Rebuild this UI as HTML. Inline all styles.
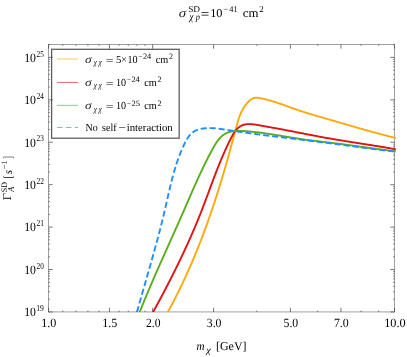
<!DOCTYPE html>
<html><head><meta charset="utf-8"><title>chart</title><style>
html,body{margin:0;padding:0;background:#fff;}
svg{display:block;font-family:"Liberation Serif",serif;fill:#000;will-change:transform;}
text{white-space:pre;text-rendering:geometricPrecision;}
</style></head><body>
<svg width="407" height="357" viewBox="0 0 407 357">
<defs><clipPath id="cp"><rect x="48.5" y="44.5" width="347.25" height="267.45"/></clipPath></defs>
<rect width="407" height="357" fill="#fff"/>
<rect x="48.5" y="44.5" width="346.05" height="267.45" fill="none" stroke="#5f5f5f" stroke-width="0.6"/>
<rect x="51.6" y="49.3" width="127.55000000000001" height="88.89999999999999" fill="#fff" stroke="#5a5a5a" stroke-width="1.25"/>
<path d="M48.50 311.95v-4.2 M48.50 44.5v4.2 M109.44 311.95v-4.2 M109.44 44.5v4.2 M152.67 311.95v-4.2 M152.67 44.5v4.2 M213.61 311.95v-4.2 M213.61 44.5v4.2 M290.38 311.95v-4.2 M290.38 44.5v4.2 M340.95 311.95v-4.2 M340.95 44.5v4.2 M394.55 311.95v-4.2 M394.55 44.5v4.2 M62.82 311.95v-1.35 M62.82 44.5v1.35 M75.90 311.95v-1.35 M75.90 44.5v1.35 M87.93 311.95v-1.35 M87.93 44.5v1.35 M99.07 311.95v-1.35 M99.07 44.5v1.35 M119.14 311.95v-1.35 M119.14 44.5v1.35 M128.25 311.95v-1.35 M128.25 44.5v1.35 M136.84 311.95v-1.35 M136.84 44.5v1.35 M144.96 311.95v-1.35 M144.96 44.5v1.35 M256.84 311.95v-1.35 M256.84 44.5v1.35 M317.78 311.95v-1.35 M317.78 44.5v1.35 M361.01 311.95v-1.35 M361.01 44.5v1.35 M378.72 311.95v-1.35 M378.72 44.5v1.35 M48.5 311.95h4.2 M394.55 311.95h-4.2 M48.5 299.18h1.35 M394.55 299.18h-1.35 M48.5 291.71h1.35 M394.55 291.71h-1.35 M48.5 286.40h1.35 M394.55 286.40h-1.35 M48.5 282.29h1.35 M394.55 282.29h-1.35 M48.5 278.93h1.35 M394.55 278.93h-1.35 M48.5 276.09h1.35 M394.55 276.09h-1.35 M48.5 273.63h1.35 M394.55 273.63h-1.35 M48.5 271.46h1.35 M394.55 271.46h-1.35 M48.5 269.52h4.2 M394.55 269.52h-4.2 M48.5 256.75h1.35 M394.55 256.75h-1.35 M48.5 249.28h1.35 M394.55 249.28h-1.35 M48.5 243.97h1.35 M394.55 243.97h-1.35 M48.5 239.86h1.35 M394.55 239.86h-1.35 M48.5 236.50h1.35 M394.55 236.50h-1.35 M48.5 233.66h1.35 M394.55 233.66h-1.35 M48.5 231.20h1.35 M394.55 231.20h-1.35 M48.5 229.03h1.35 M394.55 229.03h-1.35 M48.5 227.09h4.2 M394.55 227.09h-4.2 M48.5 214.32h1.35 M394.55 214.32h-1.35 M48.5 206.85h1.35 M394.55 206.85h-1.35 M48.5 201.54h1.35 M394.55 201.54h-1.35 M48.5 197.43h1.35 M394.55 197.43h-1.35 M48.5 194.07h1.35 M394.55 194.07h-1.35 M48.5 191.23h1.35 M394.55 191.23h-1.35 M48.5 188.77h1.35 M394.55 188.77h-1.35 M48.5 186.60h1.35 M394.55 186.60h-1.35 M48.5 184.66h4.2 M394.55 184.66h-4.2 M48.5 171.89h1.35 M394.55 171.89h-1.35 M48.5 164.42h1.35 M394.55 164.42h-1.35 M48.5 159.11h1.35 M394.55 159.11h-1.35 M48.5 155.00h1.35 M394.55 155.00h-1.35 M48.5 151.64h1.35 M394.55 151.64h-1.35 M48.5 148.80h1.35 M394.55 148.80h-1.35 M48.5 146.34h1.35 M394.55 146.34h-1.35 M48.5 144.17h1.35 M394.55 144.17h-1.35 M48.5 142.23h4.2 M394.55 142.23h-4.2 M48.5 129.46h1.35 M394.55 129.46h-1.35 M48.5 121.99h1.35 M394.55 121.99h-1.35 M48.5 116.68h1.35 M394.55 116.68h-1.35 M48.5 112.57h1.35 M394.55 112.57h-1.35 M48.5 109.21h1.35 M394.55 109.21h-1.35 M48.5 106.37h1.35 M394.55 106.37h-1.35 M48.5 103.91h1.35 M394.55 103.91h-1.35 M48.5 101.74h1.35 M394.55 101.74h-1.35 M48.5 99.80h4.2 M394.55 99.80h-4.2 M48.5 87.03h1.35 M394.55 87.03h-1.35 M48.5 79.56h1.35 M394.55 79.56h-1.35 M48.5 74.25h1.35 M394.55 74.25h-1.35 M48.5 70.14h1.35 M394.55 70.14h-1.35 M48.5 66.78h1.35 M394.55 66.78h-1.35 M48.5 63.94h1.35 M394.55 63.94h-1.35 M48.5 61.48h1.35 M394.55 61.48h-1.35 M48.5 59.31h1.35 M394.55 59.31h-1.35 M48.5 57.37h4.2 M394.55 57.37h-4.2 M48.5 44.60h1.35 M394.55 44.60h-1.35" stroke="#4a4a4a" stroke-width="0.75" fill="none"/>
<g clip-path="url(#cp)" fill="none" stroke-linejoin="round">
<path d="M165.00 317.06 L165.35 316.44 L165.70 315.82 L166.05 315.20 L166.39 314.58 L166.74 313.96 L167.08 313.33 L167.43 312.71 L167.77 312.09 L168.11 311.47 L168.45 310.84 L168.79 310.22 L169.13 309.60 L169.47 308.97 L169.80 308.35 L170.14 307.72 L170.47 307.10 L170.81 306.47 L171.14 305.85 L171.47 305.22 L171.80 304.60 L172.13 303.97 L172.46 303.34 L172.79 302.72 L173.12 302.09 L173.45 301.46 L173.77 300.84 L174.10 300.21 L174.42 299.58 L174.74 298.95 L175.07 298.33 L175.39 297.70 L175.71 297.07 L176.03 296.44 L176.35 295.81 L176.66 295.18 L176.98 294.55 L177.30 293.92 L177.61 293.29 L177.93 292.66 L178.24 292.03 L178.55 291.40 L178.86 290.77 L179.17 290.14 L179.48 289.50 L179.79 288.87 L180.10 288.24 L180.41 287.61 L180.72 286.98 L181.02 286.34 L181.33 285.71 L181.63 285.08 L181.93 284.44 L182.24 283.81 L182.54 283.17 L182.84 282.54 L183.14 281.91 L183.44 281.27 L183.74 280.64 L184.03 280.00 L184.33 279.37 L184.62 278.73 L184.92 278.09 L185.21 277.46 L185.51 276.82 L185.80 276.18 L186.09 275.55 L186.38 274.91 L186.67 274.27 L186.96 273.63 L187.25 273.00 L187.54 272.36 L187.83 271.72 L188.11 271.08 L188.40 270.44 L188.68 269.80 L188.97 269.16 L189.25 268.52 L189.53 267.88 L189.81 267.24 L190.09 266.60 L190.37 265.96 L190.65 265.32 L190.93 264.68 L191.21 264.04 L191.49 263.40 L191.76 262.75 L192.04 262.11 L192.31 261.47 L192.59 260.83 L192.86 260.18 L193.13 259.54 L193.40 258.90 L193.68 258.25 L193.95 257.61 L194.22 256.97 L194.48 256.32 L194.75 255.68 L195.02 255.03 L195.29 254.39 L195.55 253.74 L195.82 253.10 L196.08 252.45 L196.35 251.80 L196.61 251.16 L196.87 250.51 L197.14 249.87 L197.40 249.22 L197.66 248.57 L197.92 247.92 L198.18 247.28 L198.43 246.63 L198.69 245.98 L198.95 245.33 L199.21 244.68 L199.46 244.03 L199.72 243.38 L199.97 242.73 L200.23 242.08 L200.48 241.43 L200.73 240.78 L200.98 240.13 L201.23 239.48 L201.48 238.83 L201.73 238.18 L201.98 237.53 L202.23 236.88 L202.48 236.23 L202.73 235.57 L202.97 234.92 L203.22 234.27 L203.47 233.62 L203.71 232.96 L203.96 232.31 L204.20 231.66 L204.44 231.00 L204.68 230.35 L204.93 229.69 L205.17 229.04 L205.41 228.39 L205.65 227.73 L205.89 227.07 L206.13 226.42 L206.36 225.76 L206.60 225.11 L206.84 224.45 L207.08 223.79 L207.31 223.14 L207.55 222.48 L207.78 221.82 L208.01 221.17 L208.25 220.51 L208.48 219.85 L208.71 219.19 L208.95 218.53 L209.18 217.88 L209.41 217.22 L209.64 216.56 L209.87 215.90 L210.10 215.24 L210.32 214.58 L210.55 213.92 L210.78 213.26 L211.01 212.60 L211.23 211.94 L211.46 211.28 L211.68 210.62 L211.91 209.95 L212.13 209.29 L212.36 208.63 L212.58 207.97 L212.80 207.31 L213.02 206.64 L213.25 205.98 L213.47 205.32 L213.69 204.65 L213.91 203.99 L214.13 203.33 L214.35 202.66 L214.56 202.00 L214.78 201.33 L215.00 200.67 L215.22 200.00 L215.43 199.34 L215.65 198.67 L215.87 198.01 L216.08 197.34 L216.30 196.67 L216.51 196.01 L216.72 195.34 L216.94 194.67 L217.15 194.00 L217.36 193.34 L217.57 192.67 L217.78 192.00 L218.00 191.33 L218.21 190.67 L218.42 190.00 L218.63 189.33 L218.83 188.66 L219.04 187.99 L219.25 187.32 L219.46 186.65 L219.67 185.98 L219.87 185.31 L220.08 184.64 L220.29 183.97 L220.49 183.30 L220.70 182.62 L220.90 181.95 L221.11 181.28 L221.31 180.61 L221.51 179.94 L221.72 179.26 L221.92 178.59 L222.12 177.92 L222.32 177.25 L222.53 176.57 L222.73 175.90 L222.93 175.22 L223.13 174.55 L223.33 173.88 L223.53 173.20 L223.73 172.53 L223.93 171.85 L224.12 171.18 L224.32 170.50 L224.52 169.82 L224.72 169.15 L224.91 168.47 L225.11 167.80 L225.31 167.12 L225.50 166.44 L225.70 165.76 L225.89 165.09 L226.09 164.41 L226.28 163.73 L226.48 163.05 L226.67 162.37 L226.86 161.70 L227.06 161.02 L227.25 160.34 L227.44 159.66 L227.63 158.98 L227.83 158.30 L228.02 157.62 L228.21 156.94 L228.40 156.26 L228.59 155.58 L228.78 154.90 L228.97 154.21 L229.16 153.53 L229.35 152.85 L229.54 152.17 L229.73 151.49 L229.92 150.80 L230.10 150.12 L230.29 149.44 L230.48 148.75 L230.67 148.07 L230.85 147.39 L231.04 146.70 L231.23 146.02 L231.41 145.34 L231.60 144.65 L231.78 143.97 L231.97 143.28 L232.15 142.60 L232.34 141.91 L232.52 141.22 L232.71 140.54 L232.89 139.85 L233.08 139.17 L233.26 138.48 L233.44 137.79 L233.63 137.10 L233.81 136.42 L233.99 135.73 L234.17 135.04 L234.36 134.35 L234.54 133.66 L234.72 132.98 L234.90 132.29 L235.08 131.60 L235.26 130.91 L235.44 130.22 L235.62 129.53 L235.80 128.84 L235.99 128.15 L236.17 127.46 L236.35 126.77 L236.54 126.09 L236.73 125.40 L236.91 124.72 L237.11 124.03 L237.30 123.35 L237.50 122.67 L237.70 121.99 L237.90 121.32 L238.11 120.64 L238.32 119.97 L238.54 119.30 L238.76 118.64 L238.99 117.98 L239.22 117.32 L239.45 116.66 L239.70 116.01 L239.95 115.37 L240.20 114.72 L240.47 114.09 L240.74 113.45 L241.01 112.82 L241.30 112.20 L241.59 111.58 L241.89 110.96 L242.20 110.36 L242.52 109.75 L242.85 109.16 L243.19 108.57 L243.54 107.98 L243.90 107.40 L244.26 106.83 L244.64 106.27 L245.03 105.71 L245.44 105.16 L245.85 104.62 L246.27 104.08 L246.71 103.55 L247.16 103.04 L247.62 102.52 L248.10 102.02 L248.59 101.53 L249.09 101.04 L249.61 100.57 L250.14 100.12 L250.68 99.70 L251.24 99.30 L251.82 98.94 L252.41 98.62 L253.01 98.34 L253.63 98.12 L254.27 97.95 L254.92 97.83 L255.58 97.77 L256.25 97.74 L256.94 97.76 L257.63 97.81 L258.32 97.88 L259.02 97.98 L259.72 98.09 L260.42 98.22 L261.12 98.35 L261.82 98.49 L262.52 98.64 L263.21 98.79 L263.91 98.94 L264.60 99.10 L265.29 99.26 L265.98 99.43 L266.67 99.61 L267.35 99.78 L268.04 99.96 L268.72 100.15 L269.40 100.34 L270.08 100.53 L270.76 100.72 L271.44 100.92 L272.11 101.12 L272.79 101.33 L273.46 101.54 L274.14 101.75 L274.81 101.96 L275.48 102.18 L276.15 102.40 L276.82 102.62 L277.49 102.84 L278.16 103.07 L278.83 103.30 L279.49 103.53 L280.16 103.76 L280.82 103.99 L281.49 104.22 L282.15 104.46 L282.82 104.69 L283.48 104.93 L284.14 105.17 L284.81 105.41 L285.47 105.65 L286.13 105.89 L286.79 106.13 L287.45 106.37 L288.12 106.61 L288.78 106.85 L289.44 107.09 L290.10 107.33 L290.76 107.56 L291.42 107.80 L292.08 108.04 L292.75 108.28 L293.41 108.51 L294.07 108.75 L294.73 108.98 L295.40 109.21 L296.06 109.44 L296.73 109.67 L297.39 109.90 L298.05 110.12 L298.72 110.34 L299.38 110.57 L300.05 110.79 L300.72 111.01 L301.38 111.22 L302.05 111.44 L302.72 111.66 L303.39 111.87 L304.05 112.08 L304.72 112.30 L305.39 112.51 L306.06 112.72 L306.73 112.92 L307.40 113.13 L308.07 113.34 L308.74 113.54 L309.41 113.75 L310.08 113.95 L310.75 114.15 L311.42 114.36 L312.09 114.56 L312.76 114.76 L313.43 114.96 L314.10 115.16 L314.78 115.36 L315.45 115.56 L316.12 115.75 L316.79 115.95 L317.46 116.15 L318.14 116.34 L318.81 116.54 L319.48 116.74 L320.16 116.93 L320.83 117.13 L321.50 117.32 L322.17 117.52 L322.85 117.71 L323.52 117.91 L324.19 118.10 L324.87 118.29 L325.54 118.49 L326.21 118.68 L326.89 118.88 L327.56 119.07 L328.23 119.27 L328.91 119.46 L329.58 119.66 L330.25 119.85 L330.93 120.05 L331.60 120.25 L332.27 120.44 L332.95 120.64 L333.62 120.83 L334.29 121.03 L334.97 121.23 L335.64 121.42 L336.31 121.62 L336.99 121.81 L337.66 122.01 L338.33 122.21 L339.01 122.40 L339.68 122.60 L340.35 122.80 L341.03 122.99 L341.70 123.19 L342.38 123.39 L343.05 123.58 L343.72 123.78 L344.40 123.98 L345.07 124.17 L345.74 124.37 L346.42 124.56 L347.09 124.76 L347.77 124.96 L348.44 125.15 L349.11 125.35 L349.79 125.54 L350.46 125.74 L351.14 125.93 L351.81 126.13 L352.49 126.32 L353.16 126.52 L353.83 126.71 L354.51 126.91 L355.18 127.10 L355.86 127.29 L356.53 127.49 L357.21 127.68 L357.88 127.87 L358.56 128.07 L359.23 128.26 L359.91 128.45 L360.58 128.64 L361.26 128.84 L361.93 129.03 L362.61 129.22 L363.28 129.41 L363.96 129.60 L364.63 129.79 L365.31 129.98 L365.99 130.17 L366.66 130.36 L367.34 130.54 L368.01 130.73 L368.69 130.92 L369.37 131.11 L370.04 131.29 L370.72 131.48 L371.40 131.67 L372.07 131.85 L372.75 132.04 L373.43 132.22 L374.11 132.40 L374.78 132.59 L375.46 132.77 L376.14 132.95 L376.82 133.13 L377.49 133.32 L378.17 133.50 L378.85 133.68 L379.53 133.86 L380.21 134.03 L380.88 134.21 L381.56 134.39 L382.24 134.57 L382.92 134.74 L383.60 134.92 L384.28 135.10 L384.96 135.27 L385.64 135.44 L386.32 135.62 L387.00 135.79 L387.68 135.96 L388.36 136.13 L389.04 136.30 L389.72 136.47 L390.40 136.64 L391.08 136.81 L391.76 136.98 L392.44 137.14 L393.12 137.31 L393.80 137.47 L394.48 137.64 L395.17 137.80 L395.85 137.96 L396.53 138.13 L397.21 138.29" stroke="#FFA90F" stroke-width="1.9"/>
<path d="M150.41 316.95 L150.75 316.35 L151.08 315.74 L151.42 315.13 L151.75 314.52 L152.09 313.91 L152.43 313.30 L152.76 312.69 L153.09 312.08 L153.43 311.47 L153.76 310.86 L154.10 310.25 L154.43 309.64 L154.77 309.03 L155.10 308.42 L155.43 307.80 L155.77 307.19 L156.10 306.58 L156.43 305.96 L156.76 305.35 L157.10 304.74 L157.43 304.12 L157.76 303.51 L158.09 302.89 L158.42 302.28 L158.75 301.66 L159.09 301.04 L159.42 300.43 L159.75 299.81 L160.08 299.19 L160.41 298.57 L160.74 297.96 L161.07 297.34 L161.39 296.72 L161.72 296.10 L162.05 295.48 L162.38 294.86 L162.71 294.24 L163.04 293.62 L163.36 293.00 L163.69 292.38 L164.02 291.76 L164.34 291.14 L164.67 290.51 L165.00 289.89 L165.32 289.27 L165.65 288.65 L165.97 288.02 L166.30 287.40 L166.62 286.78 L166.94 286.15 L167.27 285.53 L167.59 284.90 L167.91 284.28 L168.24 283.65 L168.56 283.03 L168.88 282.40 L169.20 281.77 L169.52 281.15 L169.84 280.52 L170.16 279.89 L170.48 279.26 L170.80 278.64 L171.12 278.01 L171.44 277.38 L171.76 276.75 L172.08 276.12 L172.39 275.49 L172.71 274.86 L173.03 274.23 L173.34 273.60 L173.66 272.97 L173.98 272.34 L174.29 271.71 L174.60 271.08 L174.92 270.45 L175.23 269.82 L175.55 269.19 L175.86 268.55 L176.17 267.92 L176.48 267.29 L176.79 266.66 L177.10 266.02 L177.41 265.39 L177.72 264.75 L178.03 264.12 L178.34 263.49 L178.65 262.85 L178.96 262.22 L179.26 261.58 L179.57 260.95 L179.88 260.31 L180.18 259.67 L180.49 259.04 L180.79 258.40 L181.10 257.77 L181.40 257.13 L181.70 256.49 L182.01 255.85 L182.31 255.22 L182.61 254.58 L182.91 253.94 L183.21 253.30 L183.51 252.66 L183.81 252.03 L184.11 251.39 L184.41 250.75 L184.70 250.11 L185.00 249.47 L185.30 248.83 L185.59 248.19 L185.89 247.55 L186.18 246.91 L186.48 246.27 L186.77 245.63 L187.06 244.98 L187.36 244.34 L187.65 243.70 L187.94 243.06 L188.23 242.42 L188.52 241.78 L188.81 241.13 L189.09 240.49 L189.38 239.85 L189.67 239.20 L189.95 238.56 L190.24 237.92 L190.53 237.27 L190.81 236.63 L191.09 235.99 L191.38 235.34 L191.66 234.70 L191.94 234.05 L192.22 233.41 L192.50 232.76 L192.78 232.12 L193.06 231.47 L193.34 230.83 L193.62 230.18 L193.89 229.54 L194.17 228.89 L194.44 228.24 L194.72 227.60 L194.99 226.95 L195.26 226.30 L195.54 225.66 L195.81 225.01 L196.08 224.36 L196.35 223.72 L196.62 223.07 L196.89 222.42 L197.15 221.77 L197.42 221.12 L197.69 220.48 L197.95 219.83 L198.22 219.18 L198.48 218.53 L198.74 217.88 L199.01 217.23 L199.27 216.58 L199.53 215.93 L199.79 215.28 L200.05 214.63 L200.31 213.98 L200.56 213.33 L200.82 212.68 L201.08 212.03 L201.33 211.38 L201.59 210.73 L201.84 210.08 L202.09 209.43 L202.34 208.78 L202.59 208.13 L202.84 207.48 L203.09 206.83 L203.34 206.18 L203.59 205.52 L203.84 204.87 L204.09 204.22 L204.34 203.57 L204.58 202.92 L204.83 202.27 L205.07 201.61 L205.32 200.96 L205.56 200.31 L205.81 199.66 L206.05 199.00 L206.30 198.35 L206.54 197.70 L206.78 197.05 L207.02 196.39 L207.27 195.74 L207.51 195.09 L207.75 194.43 L207.99 193.78 L208.24 193.13 L208.48 192.48 L208.72 191.82 L208.96 191.17 L209.20 190.52 L209.45 189.86 L209.69 189.21 L209.93 188.56 L210.17 187.90 L210.42 187.25 L210.66 186.60 L210.90 185.94 L211.14 185.29 L211.39 184.64 L211.63 183.98 L211.87 183.33 L212.12 182.68 L212.36 182.02 L212.61 181.37 L212.85 180.72 L213.10 180.06 L213.34 179.41 L213.59 178.75 L213.84 178.10 L214.09 177.45 L214.33 176.79 L214.58 176.14 L214.83 175.49 L215.08 174.83 L215.33 174.18 L215.58 173.53 L215.83 172.88 L216.09 172.22 L216.34 171.57 L216.60 170.92 L216.85 170.26 L217.11 169.61 L217.36 168.96 L217.62 168.30 L217.88 167.65 L218.14 167.00 L218.40 166.35 L218.66 165.69 L218.92 165.04 L219.19 164.39 L219.45 163.74 L219.72 163.08 L219.98 162.43 L220.25 161.78 L220.52 161.13 L220.79 160.48 L221.06 159.83 L221.34 159.17 L221.61 158.52 L221.88 157.87 L222.16 157.22 L222.44 156.57 L222.72 155.92 L223.00 155.27 L223.28 154.62 L223.57 153.97 L223.85 153.32 L224.14 152.67 L224.43 152.01 L224.72 151.36 L225.01 150.71 L225.30 150.07 L225.60 149.42 L225.89 148.77 L226.19 148.12 L226.49 147.47 L226.79 146.82 L227.10 146.17 L227.40 145.52 L227.71 144.87 L228.02 144.22 L228.33 143.58 L228.64 142.93 L228.96 142.28 L229.27 141.63 L229.59 140.99 L229.91 140.34 L230.23 139.69 L230.56 139.05 L230.89 138.40 L231.22 137.75 L231.55 137.11 L231.89 136.47 L232.23 135.84 L232.58 135.21 L232.94 134.58 L233.30 133.97 L233.67 133.36 L234.05 132.77 L234.45 132.18 L234.85 131.61 L235.26 131.05 L235.69 130.50 L236.13 129.97 L236.58 129.46 L237.05 128.96 L237.54 128.49 L238.04 128.03 L238.56 127.59 L239.09 127.18 L239.64 126.78 L240.21 126.42 L240.78 126.07 L241.37 125.76 L241.97 125.47 L242.58 125.21 L243.20 124.98 L243.83 124.77 L244.47 124.60 L245.11 124.46 L245.77 124.34 L246.42 124.24 L247.09 124.17 L247.76 124.12 L248.44 124.09 L249.12 124.09 L249.80 124.09 L250.49 124.12 L251.19 124.16 L251.88 124.22 L252.59 124.28 L253.29 124.36 L253.99 124.45 L254.70 124.55 L255.41 124.65 L256.12 124.76 L256.83 124.87 L257.54 124.99 L258.24 125.11 L258.95 125.23 L259.66 125.35 L260.37 125.47 L261.07 125.59 L261.78 125.71 L262.48 125.83 L263.19 125.95 L263.89 126.07 L264.60 126.20 L265.30 126.32 L266.00 126.44 L266.70 126.57 L267.40 126.69 L268.10 126.82 L268.80 126.94 L269.50 127.07 L270.20 127.20 L270.90 127.32 L271.59 127.45 L272.29 127.58 L272.99 127.71 L273.68 127.84 L274.38 127.97 L275.08 128.10 L275.77 128.22 L276.46 128.35 L277.16 128.48 L277.85 128.62 L278.54 128.75 L279.24 128.88 L279.93 129.01 L280.62 129.14 L281.31 129.27 L282.00 129.40 L282.69 129.54 L283.38 129.67 L284.07 129.80 L284.76 129.93 L285.45 130.07 L286.14 130.20 L286.83 130.33 L287.52 130.47 L288.21 130.60 L288.90 130.74 L289.58 130.87 L290.27 131.00 L290.96 131.14 L291.65 131.27 L292.33 131.41 L293.02 131.54 L293.71 131.67 L294.39 131.81 L295.08 131.94 L295.76 132.08 L296.45 132.21 L297.14 132.35 L297.82 132.48 L298.51 132.61 L299.19 132.75 L299.88 132.88 L300.56 133.02 L301.25 133.15 L301.93 133.28 L302.62 133.42 L303.30 133.55 L303.99 133.69 L304.67 133.82 L305.36 133.95 L306.04 134.09 L306.73 134.22 L307.41 134.35 L308.10 134.48 L308.78 134.62 L309.47 134.75 L310.15 134.88 L310.84 135.01 L311.52 135.14 L312.21 135.27 L312.89 135.40 L313.58 135.54 L314.26 135.67 L314.95 135.80 L315.64 135.93 L316.32 136.05 L317.01 136.18 L317.69 136.31 L318.38 136.44 L319.07 136.57 L319.75 136.70 L320.44 136.82 L321.13 136.95 L321.82 137.08 L322.50 137.20 L323.19 137.33 L323.88 137.45 L324.57 137.58 L325.26 137.70 L325.95 137.82 L326.64 137.95 L327.33 138.07 L328.02 138.19 L328.71 138.31 L329.40 138.44 L330.09 138.56 L330.78 138.68 L331.47 138.80 L332.16 138.91 L332.85 139.03 L333.55 139.15 L334.24 139.27 L334.93 139.39 L335.62 139.50 L336.32 139.62 L337.01 139.74 L337.71 139.85 L338.40 139.97 L339.09 140.08 L339.79 140.20 L340.48 140.31 L341.18 140.43 L341.87 140.54 L342.57 140.65 L343.26 140.77 L343.96 140.88 L344.65 140.99 L345.35 141.10 L346.05 141.21 L346.74 141.33 L347.44 141.44 L348.13 141.55 L348.83 141.66 L349.53 141.77 L350.22 141.88 L350.92 141.99 L351.62 142.10 L352.31 142.21 L353.01 142.32 L353.71 142.43 L354.40 142.54 L355.10 142.65 L355.80 142.76 L356.49 142.87 L357.19 142.98 L357.89 143.09 L358.58 143.20 L359.28 143.31 L359.98 143.42 L360.67 143.53 L361.37 143.64 L362.07 143.74 L362.76 143.85 L363.46 143.96 L364.16 144.07 L364.85 144.18 L365.55 144.29 L366.24 144.40 L366.94 144.51 L367.64 144.62 L368.33 144.73 L369.03 144.84 L369.72 144.95 L370.42 145.06 L371.11 145.17 L371.81 145.28 L372.50 145.39 L373.20 145.50 L373.89 145.61 L374.59 145.72 L375.28 145.83 L375.97 145.94 L376.67 146.05 L377.36 146.16 L378.05 146.27 L378.75 146.39 L379.44 146.50 L380.13 146.61 L380.82 146.72 L381.51 146.84 L382.21 146.95 L382.90 147.06 L383.59 147.18 L384.28 147.29 L384.97 147.41 L385.66 147.52 L386.35 147.64 L387.04 147.75 L387.73 147.87 L388.42 147.98 L389.10 148.10 L389.79 148.22 L390.48 148.34 L391.17 148.45 L391.85 148.57 L392.54 148.69 L393.23 148.81 L393.91 148.93 L394.60 149.05 L395.28 149.17 L395.97 149.29 L396.65 149.42 L397.33 149.54" stroke="#E01212" stroke-width="1.9"/>
<path d="M137.76 317.03 L138.02 316.39 L138.27 315.74 L138.52 315.09 L138.77 314.44 L139.03 313.79 L139.28 313.14 L139.53 312.49 L139.79 311.84 L140.05 311.19 L140.30 310.54 L140.56 309.89 L140.82 309.25 L141.08 308.60 L141.34 307.95 L141.60 307.30 L141.86 306.65 L142.12 306.00 L142.38 305.36 L142.64 304.71 L142.90 304.06 L143.17 303.41 L143.43 302.76 L143.70 302.12 L143.96 301.47 L144.23 300.82 L144.49 300.17 L144.76 299.53 L145.03 298.88 L145.29 298.23 L145.56 297.58 L145.83 296.94 L146.10 296.29 L146.37 295.64 L146.64 295.00 L146.91 294.35 L147.18 293.70 L147.45 293.06 L147.72 292.41 L148.00 291.76 L148.27 291.12 L148.54 290.47 L148.82 289.82 L149.09 289.18 L149.36 288.53 L149.64 287.88 L149.91 287.24 L150.19 286.59 L150.47 285.95 L150.74 285.30 L151.02 284.65 L151.30 284.01 L151.57 283.36 L151.85 282.72 L152.13 282.07 L152.41 281.43 L152.69 280.78 L152.97 280.14 L153.25 279.49 L153.53 278.85 L153.81 278.20 L154.09 277.56 L154.37 276.91 L154.65 276.27 L154.93 275.62 L155.21 274.98 L155.49 274.33 L155.78 273.69 L156.06 273.04 L156.34 272.40 L156.63 271.75 L156.91 271.11 L157.19 270.47 L157.48 269.82 L157.76 269.18 L158.04 268.53 L158.33 267.89 L158.61 267.25 L158.90 266.60 L159.18 265.96 L159.47 265.31 L159.75 264.67 L160.04 264.03 L160.33 263.38 L160.61 262.74 L160.90 262.10 L161.18 261.45 L161.47 260.81 L161.76 260.17 L162.04 259.52 L162.33 258.88 L162.62 258.24 L162.91 257.60 L163.19 256.95 L163.48 256.31 L163.77 255.67 L164.06 255.02 L164.34 254.38 L164.63 253.74 L164.92 253.10 L165.21 252.45 L165.49 251.81 L165.78 251.17 L166.07 250.53 L166.36 249.89 L166.65 249.24 L166.94 248.60 L167.22 247.96 L167.51 247.32 L167.80 246.68 L168.09 246.03 L168.38 245.39 L168.66 244.75 L168.95 244.11 L169.24 243.47 L169.53 242.83 L169.82 242.19 L170.11 241.54 L170.39 240.90 L170.68 240.26 L170.97 239.62 L171.26 238.98 L171.55 238.34 L171.83 237.70 L172.12 237.06 L172.41 236.42 L172.70 235.77 L172.98 235.13 L173.27 234.49 L173.56 233.85 L173.84 233.21 L174.13 232.57 L174.42 231.93 L174.71 231.29 L174.99 230.65 L175.28 230.01 L175.56 229.37 L175.85 228.73 L176.14 228.09 L176.42 227.45 L176.71 226.81 L176.99 226.17 L177.28 225.53 L177.56 224.89 L177.85 224.25 L178.13 223.61 L178.42 222.97 L178.70 222.33 L178.99 221.69 L179.27 221.05 L179.55 220.41 L179.84 219.77 L180.12 219.13 L180.40 218.50 L180.68 217.86 L180.97 217.22 L181.25 216.58 L181.53 215.94 L181.81 215.30 L182.09 214.66 L182.37 214.02 L182.65 213.38 L182.93 212.74 L183.21 212.11 L183.49 211.47 L183.77 210.83 L184.05 210.19 L184.33 209.55 L184.61 208.91 L184.89 208.27 L185.16 207.64 L185.44 207.00 L185.72 206.36 L186.00 205.72 L186.27 205.08 L186.55 204.45 L186.83 203.81 L187.10 203.17 L187.38 202.53 L187.66 201.89 L187.94 201.26 L188.21 200.62 L188.49 199.98 L188.77 199.34 L189.04 198.70 L189.32 198.07 L189.60 197.43 L189.88 196.79 L190.15 196.15 L190.43 195.52 L190.71 194.88 L190.99 194.24 L191.27 193.60 L191.55 192.97 L191.82 192.33 L192.10 191.69 L192.38 191.05 L192.66 190.42 L192.94 189.78 L193.22 189.14 L193.51 188.50 L193.79 187.87 L194.07 187.23 L194.35 186.59 L194.64 185.96 L194.92 185.32 L195.20 184.68 L195.49 184.05 L195.77 183.41 L196.06 182.77 L196.35 182.13 L196.63 181.50 L196.92 180.86 L197.21 180.22 L197.50 179.59 L197.79 178.95 L198.08 178.31 L198.37 177.68 L198.66 177.04 L198.96 176.40 L199.25 175.77 L199.54 175.13 L199.84 174.49 L200.14 173.85 L200.43 173.22 L200.73 172.58 L201.03 171.94 L201.33 171.31 L201.63 170.67 L201.93 170.03 L202.24 169.40 L202.54 168.76 L202.85 168.12 L203.15 167.49 L203.46 166.85 L203.77 166.21 L204.08 165.58 L204.39 164.94 L204.70 164.30 L205.02 163.67 L205.33 163.03 L205.65 162.39 L205.96 161.76 L206.28 161.12 L206.60 160.48 L206.92 159.85 L207.25 159.21 L207.57 158.57 L207.89 157.94 L208.22 157.30 L208.55 156.66 L208.88 156.03 L209.21 155.39 L209.54 154.75 L209.88 154.12 L210.21 153.48 L210.55 152.84 L210.89 152.21 L211.23 151.57 L211.57 150.93 L211.91 150.30 L212.26 149.66 L212.61 149.02 L212.96 148.39 L213.31 147.75 L213.66 147.12 L214.02 146.49 L214.38 145.86 L214.75 145.24 L215.12 144.62 L215.49 144.01 L215.87 143.41 L216.26 142.81 L216.65 142.22 L217.05 141.64 L217.46 141.07 L217.88 140.51 L218.30 139.96 L218.73 139.42 L219.17 138.89 L219.62 138.38 L220.08 137.88 L220.54 137.39 L221.02 136.92 L221.51 136.47 L222.02 136.03 L222.53 135.61 L223.05 135.21 L223.59 134.83 L224.14 134.46 L224.69 134.11 L225.26 133.78 L225.84 133.47 L226.43 133.18 L227.03 132.90 L227.64 132.65 L228.26 132.42 L228.88 132.20 L229.52 132.00 L230.16 131.82 L230.82 131.66 L231.48 131.52 L232.14 131.39 L232.82 131.28 L233.50 131.19 L234.18 131.10 L234.87 131.04 L235.57 130.98 L236.27 130.94 L236.98 130.90 L237.68 130.88 L238.40 130.87 L239.11 130.87 L239.83 130.88 L240.55 130.89 L241.27 130.91 L241.99 130.94 L242.72 130.98 L243.44 131.02 L244.17 131.06 L244.89 131.11 L245.62 131.16 L246.34 131.22 L247.06 131.27 L247.78 131.33 L248.50 131.39 L249.21 131.45 L249.93 131.52 L250.65 131.58 L251.36 131.65 L252.07 131.72 L252.78 131.79 L253.49 131.87 L254.20 131.94 L254.91 132.02 L255.62 132.10 L256.33 132.18 L257.03 132.26 L257.74 132.35 L258.44 132.43 L259.14 132.52 L259.85 132.61 L260.55 132.70 L261.25 132.79 L261.95 132.88 L262.65 132.98 L263.34 133.07 L264.04 133.17 L264.74 133.27 L265.43 133.37 L266.13 133.47 L266.82 133.57 L267.52 133.67 L268.21 133.77 L268.90 133.88 L269.59 133.98 L270.29 134.09 L270.98 134.20 L271.67 134.30 L272.36 134.41 L273.05 134.52 L273.74 134.63 L274.43 134.74 L275.11 134.85 L275.80 134.96 L276.49 135.07 L277.18 135.19 L277.86 135.30 L278.55 135.41 L279.24 135.53 L279.92 135.64 L280.61 135.75 L281.30 135.87 L281.98 135.98 L282.67 136.10 L283.35 136.21 L284.04 136.32 L284.72 136.44 L285.41 136.55 L286.09 136.67 L286.78 136.78 L287.47 136.90 L288.15 137.01 L288.84 137.12 L289.52 137.24 L290.21 137.35 L290.89 137.46 L291.58 137.58 L292.26 137.69 L292.95 137.80 L293.64 137.91 L294.32 138.02 L295.01 138.13 L295.70 138.24 L296.39 138.35 L297.07 138.46 L297.76 138.56 L298.45 138.67 L299.14 138.78 L299.83 138.88 L300.52 138.98 L301.21 139.09 L301.90 139.19 L302.59 139.29 L303.28 139.39 L303.98 139.49 L304.67 139.59 L305.36 139.68 L306.06 139.78 L306.75 139.87 L307.45 139.96 L308.14 140.06 L308.84 140.15 L309.53 140.24 L310.23 140.33 L310.93 140.42 L311.62 140.50 L312.32 140.59 L313.02 140.68 L313.72 140.76 L314.42 140.85 L315.12 140.93 L315.82 141.02 L316.52 141.10 L317.21 141.19 L317.91 141.27 L318.62 141.35 L319.32 141.44 L320.02 141.52 L320.72 141.60 L321.42 141.68 L322.12 141.76 L322.82 141.84 L323.52 141.92 L324.22 142.01 L324.92 142.09 L325.62 142.17 L326.32 142.25 L327.02 142.33 L327.72 142.41 L328.43 142.49 L329.13 142.58 L329.83 142.66 L330.53 142.74 L331.23 142.82 L331.93 142.91 L332.63 142.99 L333.33 143.07 L334.03 143.16 L334.72 143.24 L335.42 143.33 L336.12 143.41 L336.82 143.50 L337.52 143.59 L338.22 143.68 L338.91 143.76 L339.61 143.85 L340.31 143.94 L341.00 144.03 L341.70 144.12 L342.40 144.21 L343.09 144.31 L343.79 144.40 L344.48 144.49 L345.18 144.58 L345.87 144.68 L346.57 144.77 L347.26 144.86 L347.96 144.96 L348.65 145.05 L349.35 145.15 L350.04 145.24 L350.74 145.34 L351.43 145.43 L352.12 145.53 L352.82 145.62 L353.51 145.72 L354.20 145.82 L354.90 145.91 L355.59 146.01 L356.28 146.11 L356.98 146.20 L357.67 146.30 L358.36 146.40 L359.06 146.49 L359.75 146.59 L360.44 146.69 L361.13 146.79 L361.83 146.88 L362.52 146.98 L363.21 147.08 L363.91 147.17 L364.60 147.27 L365.29 147.37 L365.98 147.47 L366.68 147.56 L367.37 147.66 L368.06 147.76 L368.76 147.85 L369.45 147.95 L370.14 148.04 L370.84 148.14 L371.53 148.23 L372.22 148.33 L372.92 148.42 L373.61 148.52 L374.31 148.61 L375.00 148.71 L375.69 148.80 L376.39 148.89 L377.08 148.99 L377.78 149.08 L378.47 149.17 L379.17 149.26 L379.86 149.35 L380.56 149.44 L381.25 149.53 L381.95 149.62 L382.65 149.71 L383.34 149.80 L384.04 149.89 L384.74 149.97 L385.43 150.06 L386.13 150.15 L386.83 150.23 L387.53 150.32 L388.23 150.40 L388.92 150.48 L389.62 150.57 L390.32 150.65 L391.02 150.73 L391.72 150.81 L392.42 150.89 L393.12 150.97 L393.82 151.05 L394.52 151.13 L395.23 151.20 L395.93 151.28 L396.63 151.35 L397.33 151.43" stroke="#5AAE1E" stroke-width="1.9"/>
<path d="M135.64 317.02 L135.82 316.34 L136.00 315.66 L136.19 314.98 L136.37 314.30 L136.56 313.62 L136.75 312.95 L136.93 312.27 L137.12 311.59 L137.31 310.91 L137.49 310.23 L137.68 309.56 L137.87 308.88 L138.06 308.20 L138.24 307.52 L138.43 306.85 L138.62 306.17 L138.81 305.49 L139.00 304.82 L139.19 304.14 L139.38 303.46 L139.57 302.79 L139.76 302.11 L139.95 301.43 L140.14 300.76 L140.33 300.08 L140.52 299.41 L140.71 298.73 L140.90 298.05 L141.10 297.38 L141.29 296.70 L141.48 296.03 L141.67 295.35 L141.86 294.68 L142.06 294.00 L142.25 293.32 L142.44 292.65 L142.64 291.97 L142.83 291.30 L143.02 290.62 L143.21 289.95 L143.41 289.27 L143.60 288.60 L143.79 287.92 L143.99 287.25 L144.18 286.57 L144.38 285.90 L144.57 285.22 L144.76 284.55 L144.96 283.87 L145.15 283.20 L145.34 282.52 L145.54 281.85 L145.73 281.18 L145.93 280.50 L146.12 279.83 L146.31 279.15 L146.51 278.48 L146.70 277.80 L146.90 277.13 L147.09 276.45 L147.28 275.78 L147.48 275.10 L147.67 274.43 L147.86 273.76 L148.06 273.08 L148.25 272.41 L148.44 271.73 L148.64 271.06 L148.83 270.38 L149.02 269.71 L149.22 269.03 L149.41 268.36 L149.60 267.68 L149.80 267.01 L149.99 266.33 L150.18 265.66 L150.37 264.98 L150.57 264.31 L150.76 263.63 L150.95 262.96 L151.14 262.29 L151.33 261.61 L151.52 260.94 L151.71 260.26 L151.91 259.58 L152.10 258.91 L152.29 258.23 L152.48 257.56 L152.67 256.88 L152.86 256.21 L153.05 255.53 L153.24 254.86 L153.43 254.18 L153.61 253.51 L153.80 252.83 L153.99 252.15 L154.18 251.48 L154.37 250.80 L154.55 250.13 L154.74 249.45 L154.93 248.77 L155.11 248.10 L155.30 247.42 L155.49 246.74 L155.67 246.07 L155.86 245.39 L156.04 244.71 L156.23 244.04 L156.41 243.36 L156.59 242.68 L156.78 242.01 L156.96 241.33 L157.14 240.65 L157.33 239.97 L157.51 239.29 L157.69 238.62 L157.87 237.94 L158.05 237.26 L158.23 236.58 L158.41 235.90 L158.59 235.23 L158.77 234.55 L158.95 233.87 L159.12 233.19 L159.30 232.51 L159.48 231.83 L159.66 231.15 L159.83 230.47 L160.01 229.79 L160.18 229.11 L160.36 228.43 L160.53 227.75 L160.70 227.07 L160.88 226.39 L161.05 225.71 L161.22 225.03 L161.39 224.35 L161.56 223.67 L161.73 222.98 L161.90 222.30 L162.07 221.62 L162.24 220.94 L162.41 220.26 L162.58 219.57 L162.74 218.89 L162.91 218.21 L163.07 217.53 L163.24 216.84 L163.40 216.16 L163.57 215.48 L163.73 214.79 L163.89 214.11 L164.05 213.42 L164.21 212.74 L164.37 212.06 L164.53 211.37 L164.69 210.69 L164.85 210.00 L165.01 209.31 L165.17 208.63 L165.32 207.94 L165.48 207.26 L165.64 206.57 L165.79 205.89 L165.95 205.20 L166.10 204.51 L166.26 203.83 L166.41 203.14 L166.57 202.45 L166.72 201.77 L166.88 201.08 L167.03 200.39 L167.19 199.71 L167.34 199.02 L167.50 198.33 L167.65 197.65 L167.81 196.96 L167.96 196.27 L168.12 195.59 L168.27 194.90 L168.43 194.22 L168.59 193.53 L168.74 192.84 L168.90 192.16 L169.06 191.47 L169.22 190.79 L169.38 190.10 L169.54 189.42 L169.70 188.73 L169.86 188.05 L170.03 187.36 L170.19 186.68 L170.35 185.99 L170.52 185.31 L170.69 184.63 L170.85 183.94 L171.02 183.26 L171.19 182.58 L171.36 181.90 L171.53 181.22 L171.71 180.53 L171.88 179.85 L172.06 179.17 L172.24 178.49 L172.41 177.81 L172.59 177.13 L172.78 176.45 L172.96 175.78 L173.14 175.10 L173.33 174.42 L173.52 173.74 L173.71 173.07 L173.90 172.39 L174.09 171.72 L174.29 171.04 L174.49 170.37 L174.68 169.69 L174.89 169.02 L175.09 168.35 L175.29 167.67 L175.50 167.00 L175.71 166.33 L175.92 165.66 L176.13 164.99 L176.35 164.32 L176.57 163.66 L176.79 162.99 L177.01 162.32 L177.24 161.65 L177.46 160.99 L177.69 160.32 L177.93 159.66 L178.16 159.00 L178.40 158.34 L178.64 157.67 L178.89 157.01 L179.13 156.35 L179.38 155.69 L179.63 155.04 L179.89 154.38 L180.15 153.72 L180.41 153.07 L180.67 152.41 L180.94 151.76 L181.21 151.11 L181.48 150.45 L181.76 149.80 L182.04 149.15 L182.32 148.50 L182.60 147.86 L182.89 147.21 L183.19 146.56 L183.48 145.92 L183.78 145.27 L184.09 144.63 L184.39 143.99 L184.71 143.35 L185.02 142.71 L185.34 142.08 L185.67 141.45 L186.00 140.82 L186.34 140.21 L186.69 139.60 L187.05 138.99 L187.41 138.40 L187.78 137.82 L188.17 137.24 L188.57 136.68 L188.97 136.14 L189.39 135.60 L189.82 135.08 L190.27 134.58 L190.73 134.09 L191.20 133.63 L191.69 133.18 L192.20 132.74 L192.72 132.33 L193.25 131.95 L193.81 131.58 L194.38 131.24 L194.98 130.91 L195.58 130.62 L196.20 130.34 L196.84 130.08 L197.48 129.84 L198.14 129.62 L198.81 129.42 L199.48 129.23 L200.16 129.07 L200.84 128.91 L201.53 128.78 L202.23 128.65 L202.92 128.54 L203.61 128.44 L204.31 128.36 L205.00 128.28 L205.70 128.22 L206.40 128.17 L207.09 128.13 L207.79 128.10 L208.49 128.08 L209.19 128.07 L209.89 128.07 L210.59 128.08 L211.29 128.10 L211.99 128.13 L212.70 128.16 L213.40 128.20 L214.10 128.25 L214.80 128.30 L215.51 128.36 L216.21 128.43 L216.92 128.50 L217.62 128.58 L218.32 128.66 L219.03 128.75 L219.73 128.84 L220.44 128.94 L221.14 129.03 L221.85 129.13 L222.55 129.24 L223.26 129.34 L223.96 129.45 L224.67 129.56 L225.37 129.67 L226.08 129.78 L226.78 129.89 L227.49 130.00 L228.19 130.11 L228.89 130.22 L229.60 130.32 L230.30 130.43 L231.01 130.54 L231.71 130.65 L232.41 130.75 L233.11 130.86 L233.82 130.96 L234.52 131.07 L235.22 131.17 L235.92 131.28 L236.62 131.38 L237.33 131.48 L238.03 131.59 L238.73 131.69 L239.43 131.79 L240.13 131.89 L240.83 131.99 L241.53 132.09 L242.23 132.19 L242.93 132.29 L243.63 132.39 L244.33 132.49 L245.03 132.58 L245.73 132.68 L246.43 132.78 L247.13 132.88 L247.83 132.97 L248.53 133.07 L249.22 133.16 L249.92 133.26 L250.62 133.35 L251.32 133.45 L252.02 133.54 L252.71 133.64 L253.41 133.73 L254.11 133.82 L254.81 133.92 L255.50 134.01 L256.20 134.10 L256.90 134.19 L257.60 134.29 L258.29 134.38 L258.99 134.47 L259.69 134.56 L260.38 134.65 L261.08 134.74 L261.78 134.83 L262.47 134.92 L263.17 135.01 L263.86 135.10 L264.56 135.19 L265.26 135.27 L265.95 135.36 L266.65 135.45 L267.34 135.54 L268.04 135.63 L268.73 135.71 L269.43 135.80 L270.12 135.89 L270.82 135.98 L271.51 136.06 L272.21 136.15 L272.90 136.23 L273.60 136.32 L274.29 136.41 L274.99 136.49 L275.68 136.58 L276.38 136.66 L277.07 136.75 L277.77 136.83 L278.46 136.92 L279.15 137.00 L279.85 137.09 L280.54 137.17 L281.24 137.26 L281.93 137.34 L282.63 137.43 L283.32 137.51 L284.01 137.59 L284.71 137.68 L285.40 137.76 L286.10 137.85 L286.79 137.93 L287.48 138.01 L288.18 138.10 L288.87 138.18 L289.57 138.26 L290.26 138.35 L290.95 138.43 L291.65 138.52 L292.34 138.60 L293.03 138.68 L293.73 138.77 L294.42 138.85 L295.12 138.93 L295.81 139.02 L296.50 139.10 L297.20 139.18 L297.89 139.27 L298.59 139.35 L299.28 139.43 L299.97 139.52 L300.67 139.60 L301.36 139.68 L302.05 139.77 L302.75 139.85 L303.44 139.94 L304.14 140.02 L304.83 140.10 L305.53 140.19 L306.22 140.27 L306.91 140.36 L307.61 140.44 L308.30 140.52 L309.00 140.61 L309.69 140.69 L310.39 140.78 L311.08 140.86 L311.77 140.95 L312.47 141.03 L313.16 141.12 L313.86 141.20 L314.55 141.29 L315.25 141.38 L315.94 141.46 L316.64 141.55 L317.33 141.63 L318.03 141.72 L318.72 141.81 L319.42 141.89 L320.12 141.98 L320.81 142.07 L321.51 142.16 L322.20 142.24 L322.90 142.33 L323.59 142.42 L324.29 142.51 L324.99 142.60 L325.68 142.69 L326.38 142.77 L327.08 142.86 L327.77 142.95 L328.47 143.04 L329.17 143.13 L329.86 143.22 L330.56 143.32 L331.26 143.41 L331.95 143.50 L332.65 143.59 L333.35 143.68 L334.05 143.77 L334.74 143.86 L335.44 143.96 L336.14 144.05 L336.84 144.14 L337.54 144.23 L338.23 144.33 L338.93 144.42 L339.63 144.51 L340.33 144.61 L341.03 144.70 L341.72 144.79 L342.42 144.89 L343.12 144.98 L343.82 145.07 L344.52 145.17 L345.22 145.26 L345.91 145.35 L346.61 145.45 L347.31 145.54 L348.01 145.64 L348.71 145.73 L349.41 145.82 L350.11 145.92 L350.81 146.01 L351.50 146.11 L352.20 146.20 L352.90 146.29 L353.60 146.39 L354.30 146.48 L355.00 146.57 L355.70 146.67 L356.39 146.76 L357.09 146.85 L357.79 146.95 L358.49 147.04 L359.19 147.13 L359.89 147.23 L360.59 147.32 L361.28 147.41 L361.98 147.50 L362.68 147.60 L363.38 147.69 L364.08 147.78 L364.78 147.87 L365.47 147.96 L366.17 148.06 L366.87 148.15 L367.57 148.24 L368.27 148.33 L368.96 148.42 L369.66 148.51 L370.36 148.60 L371.06 148.69 L371.75 148.78 L372.45 148.87 L373.15 148.95 L373.85 149.04 L374.54 149.13 L375.24 149.22 L375.94 149.31 L376.63 149.39 L377.33 149.48 L378.03 149.57 L378.72 149.65 L379.42 149.74 L380.11 149.82 L380.81 149.91 L381.51 149.99 L382.20 150.07 L382.90 150.16 L383.59 150.24 L384.29 150.32 L384.98 150.41 L385.68 150.49 L386.37 150.57 L387.07 150.65 L387.76 150.73 L388.46 150.81 L389.15 150.89 L389.84 150.97 L390.54 151.04 L391.23 151.12 L391.92 151.20 L392.62 151.28 L393.31 151.35 L394.00 151.43 L394.70 151.50 L395.39 151.58 L396.08 151.65 L396.77 151.72 L397.46 151.79" stroke="#1E90FF" stroke-width="1.9" stroke-dasharray="6.1 2.9" stroke-dashoffset="3.85"/>
</g>
<path d="M57.0 59.05H78.1" stroke="#FFA90F" stroke-width="0.65" fill="none"/>
<path d="M57.0 82.4H78.1" stroke="#E01212" stroke-width="0.65" fill="none"/>
<path d="M57.0 105.35H78.1" stroke="#5AAE1E" stroke-width="0.65" fill="none"/>
<path d="M57.0 127.5H78.1" stroke="#1E90FF" stroke-width="0.65" fill="none" stroke-dasharray="5.5 3.45"/>
<g fill="#222"><text transform="translate(84.94 62.80) scale(1.195 1)" font-size="11.200000000000001" font-style="italic">σ</text></g>
<text transform="translate(93.80 65.40) scale(0.806 1)" font-size="8.6" font-style="italic">χ</text>
<text transform="translate(98.52 65.40) scale(0.827 1)" font-size="8.6" font-style="italic">χ</text>
<text transform="translate(105.80 63.85) scale(1.284 1)" font-size="10.8">=</text>
<text transform="translate(115.95 62.80) scale(0.988 1)" font-size="10.8">5</text>
<text transform="translate(121.02 62.80) scale(0.988 1)" font-size="10.8">×</text>
<text transform="translate(127.56 62.80) scale(0.936 1)" font-size="10.8">10</text>
<text transform="translate(138.43 59.10) scale(0.833 1)" font-size="8.2">−</text>
<text transform="translate(142.89 59.10) scale(1.024 1)" font-size="8.2">24</text>
<text transform="translate(155.73 62.80) scale(0.951 1)" font-size="10.8">cm</text>
<text transform="translate(168.90 59.10) scale(0.983 1)" font-size="8.2">2</text>
<g fill="#222"><text transform="translate(84.94 85.80) scale(1.195 1)" font-size="11.200000000000001" font-style="italic">σ</text></g>
<text transform="translate(93.80 88.40) scale(0.806 1)" font-size="8.6" font-style="italic">χ</text>
<text transform="translate(98.52 88.40) scale(0.827 1)" font-size="8.6" font-style="italic">χ</text>
<text transform="translate(105.80 86.85) scale(1.284 1)" font-size="10.8">=</text>
<text transform="translate(116.06 85.80) scale(0.936 1)" font-size="10.8">10</text>
<text transform="translate(126.93 82.10) scale(0.833 1)" font-size="8.2">−</text>
<text transform="translate(131.39 82.10) scale(1.024 1)" font-size="8.2">24</text>
<text transform="translate(144.23 85.80) scale(0.951 1)" font-size="10.8">cm</text>
<text transform="translate(157.40 82.10) scale(0.983 1)" font-size="8.2">2</text>
<g fill="#222"><text transform="translate(84.94 109.20) scale(1.195 1)" font-size="11.200000000000001" font-style="italic">σ</text></g>
<text transform="translate(93.80 111.80) scale(0.806 1)" font-size="8.6" font-style="italic">χ</text>
<text transform="translate(98.52 111.80) scale(0.827 1)" font-size="8.6" font-style="italic">χ</text>
<text transform="translate(105.80 110.25) scale(1.284 1)" font-size="10.8">=</text>
<text transform="translate(116.06 109.20) scale(0.936 1)" font-size="10.8">10</text>
<text transform="translate(126.93 105.50) scale(0.833 1)" font-size="8.2">−</text>
<text transform="translate(131.38 105.50) scale(1.041 1)" font-size="8.2">25</text>
<text transform="translate(144.23 109.20) scale(0.951 1)" font-size="10.8">cm</text>
<text transform="translate(157.40 105.50) scale(0.983 1)" font-size="8.2">2</text>
<text transform="translate(85.49 131.10) scale(0.930 1)" font-size="10.8">No</text>
<text transform="translate(102.04 131.10) scale(0.930 1)" font-size="10.8">self</text>
<text transform="translate(118.43 131.10) scale(1.225 1)" font-size="10.8">−</text>
<text transform="translate(126.78 131.10) scale(0.993 1)" font-size="10.8">interaction</text>
<text transform="translate(41.25 326.50) scale(0.960 1)" font-size="12.6">1.0</text>
<text transform="translate(102.19 326.50) scale(0.960 1)" font-size="12.6">1.5</text>
<text transform="translate(146.01 326.50) scale(0.922 1)" font-size="12.6">2.0</text>
<text transform="translate(206.76 326.50) scale(0.935 1)" font-size="12.6">3.0</text>
<text transform="translate(283.53 326.50) scale(0.935 1)" font-size="12.6">5.0</text>
<text transform="translate(333.90 326.50) scale(0.947 1)" font-size="12.6">7.0</text>
<text transform="translate(384.14 326.50) scale(0.972 1)" font-size="12.6">10.0</text>
<text transform="translate(24.13 316.30) scale(0.936 1)" font-size="12.6">10</text>
<text transform="translate(36.25 311.15) scale(0.830 1)" font-size="9.2">19</text>
<text transform="translate(24.13 273.87) scale(0.936 1)" font-size="12.6">10</text>
<text transform="translate(36.62 268.72) scale(0.788 1)" font-size="9.2">20</text>
<text transform="translate(24.13 231.44) scale(0.936 1)" font-size="12.6">10</text>
<text transform="translate(36.62 226.29) scale(0.802 1)" font-size="9.2">21</text>
<text transform="translate(24.13 189.01) scale(0.936 1)" font-size="12.6">10</text>
<text transform="translate(36.62 183.86) scale(0.802 1)" font-size="9.2">22</text>
<text transform="translate(24.13 146.58) scale(0.936 1)" font-size="12.6">10</text>
<text transform="translate(36.62 141.43) scale(0.788 1)" font-size="9.2">23</text>
<text transform="translate(24.13 104.15) scale(0.936 1)" font-size="12.6">10</text>
<text transform="translate(36.63 99.00) scale(0.775 1)" font-size="9.2">24</text>
<text transform="translate(24.13 61.72) scale(0.936 1)" font-size="12.6">10</text>
<text transform="translate(36.62 56.57) scale(0.788 1)" font-size="9.2">25</text>
<g fill="#222"><text transform="translate(178.72 17.00) scale(1.204 1)" font-size="12.4" font-style="italic">σ</text></g>
<text transform="translate(188.17 11.60) scale(1.058 1)" font-size="8.8">SD</text>
<text transform="translate(189.58 19.60) scale(0.855 1)" font-size="10.4" font-style="italic">χ</text>
<text transform="translate(195.68 19.80) scale(0.895 1)" font-size="9.4" font-style="italic">p</text>
<text transform="translate(200.85 17.60) scale(1.204 1)" font-size="12.4">=</text>
<text transform="translate(210.19 16.80) scale(1.029 1)" font-size="12">10</text>
<text transform="translate(223.31 11.50) scale(1.091 1)" font-size="8.6">−</text>
<text transform="translate(229.22 11.50) scale(0.967 1)" font-size="8.6">41</text>
<text transform="translate(242.75 16.80) scale(1.034 1)" font-size="12.4">cm</text>
<text transform="translate(259.17 11.50) scale(1.024 1)" font-size="8.8">2</text>
<text transform="translate(196.50 350.20) scale(0.927 1)" font-size="12" font-style="italic">m</text>
<text transform="translate(206.23 353.20) scale(1.140 1)" font-size="9.2" font-style="italic">χ</text>
<text transform="translate(216.00 350.20) scale(0.997 1)" font-size="12">[GeV]</text>
<g transform="translate(11.3 200.4) rotate(-90)"><text transform="translate(0.26 0.00) scale(1.053 1)" font-size="11.8">Γ</text><text transform="translate(8.15 -4.40) scale(0.947 1)" font-size="8.4">SD</text><text transform="translate(8.66 2.60) scale(0.905 1)" font-size="9.0" font-style="italic">A</text><text transform="translate(22.14 0.20) scale(0.664 1)" font-size="12.2">[</text><text transform="translate(26.15 0.30) scale(0.928 1)" font-size="12" font-style="italic">s</text><text transform="translate(31.04 -4.50) scale(1.041 1)" font-size="8.4">−</text><text transform="translate(35.95 -4.50) scale(0.921 1)" font-size="8.4">1</text><text transform="translate(41.60 0.20) scale(0.664 1)" font-size="12.2">]</text></g>
</svg>
</body></html>
